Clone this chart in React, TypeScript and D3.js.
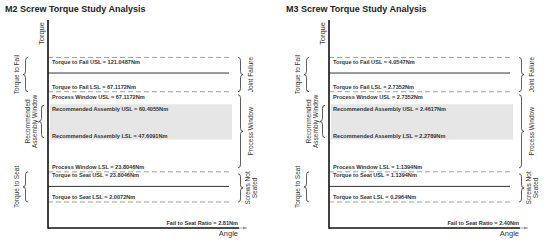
import * as d3 from 'd3'
import { useEffect, useRef } from 'react'

// one entry per panel (M2, M3)
const panelTitles = ['M2 Screw Torque Study Analysis', 'M3 Screw Torque Study Analysis']
const failUSL = [121.0487, 4.0547]
const failLSL = [67.1172, 2.7352]
const processUSL = [67.1172, 2.7352]
const assemblyUSL = [60.4055, 2.4617]
const assemblyLSL = [47.6091, 2.2789]
const processLSL = [23.8046, 1.1394]
const seatUSL = [23.8046, 1.1394]
const seatLSL = [2.0072, 0.2964]
const failToSeatRatio = [2.81, 2.40]

// schematic torque levels (relative, 0 = origin, 100 = top of axis)
const levelFailUSL = 82
const levelFailMid = 74.5
const levelFailLSL = 65.5
const levelAssemblyTop = 59.5
const levelAssemblyBottom = 42.5
const levelSeatUSL = 27
const levelSeatMid = 20
const levelSeatLSL = 12.5

const W = 550
const H = 241
const FONT = '"Liberation Sans", Arial, sans-serif'

const bracePath = (x: number, y1: number, y2: number, w: number, d: number) => {
  const h = w / 2
  const mid = (y1 + y2) / 2
  return `M${x},${y1} Q${x + d * h},${y1} ${x + d * h},${y1 + 3}` +
    ` L${x + d * h},${mid - 3} Q${x + d * h},${mid} ${x + d * w},${mid}` +
    ` Q${x + d * h},${mid} ${x + d * h},${mid + 3}` +
    ` L${x + d * h},${y2 - 3} Q${x + d * h},${y2} ${x},${y2}`
}

const drawPanel = (g: any, i: number) => {
  const x = d3.scaleLinear().domain([0, 1]).range([48, 247])
  const y = d3.scaleLinear().domain([0, 100]).range([228, 20])
  const lineEnd = x(0.925)
  const f4 = (v: number) => v.toFixed(4)

  g.append('text')
    .attr('x', 5).attr('y', 12)
    .style('font-size', '9px').style('font-weight', 'bold').style('font-family', FONT)
    .attr('fill', '#222')
    .text(panelTitles[i])

  // recommended assembly window
  g.append('rect')
    .attr('x', x(0) + 2).attr('y', y(levelAssemblyTop))
    .attr('width', lineEnd - x(0) - 2)
    .attr('height', y(levelAssemblyBottom) - y(levelAssemblyTop))
    .attr('fill', '#e6e6e6')

  const dashed = [levelFailUSL, levelFailLSL, levelSeatUSL, levelSeatLSL]
  g.selectAll('.dash').data(dashed).enter().append('line')
    .attr('x1', x(0)).attr('x2', lineEnd)
    .attr('y1', (d: number) => y(d)).attr('y2', (d: number) => y(d))
    .attr('stroke', '#a0a0a0').attr('stroke-width', 1).attr('stroke-dasharray', '5,3')

  const solid = [levelFailMid, levelSeatMid]
  g.selectAll('.solid').data(solid).enter().append('line')
    .attr('x1', x(0)).attr('x2', x(0.91))
    .attr('y1', (d: number) => y(d)).attr('y2', (d: number) => y(d))
    .attr('stroke', '#333').attr('stroke-width', 1)

  const labels: [string, number][] = [
    [`Torque to Fail USL = ${f4(failUSL[i])}Nm`, y(levelFailUSL) + 6.5],
    [`Torque to Fail LSL = ${f4(failLSL[i])}Nm`, y(levelFailLSL) - 3],
    [`Process Window USL = ${f4(processUSL[i])}Nm`, y(levelFailLSL) + 7.5],
    [`Recommended Assembly USL = ${f4(assemblyUSL[i])}Nm`, y(levelAssemblyTop) + 6.5],
    [`Recommended Assembly LSL = ${f4(assemblyLSL[i])}Nm`, y(levelAssemblyBottom) - 2],
    [`Process Window LSL = ${f4(processLSL[i])}Nm`, y(levelSeatUSL) - 2.5],
    [`Torque to Seat USL = ${f4(seatUSL[i])}Nm`, y(levelSeatUSL) + 5.5],
    [`Torque to Seat LSL = ${f4(seatLSL[i])}Nm`, y(levelSeatLSL) - 3],
  ]
  g.selectAll('.lbl').data(labels).enter().append('text')
    .attr('x', x(0) + 4).attr('y', (d: any) => d[1])
    .style('font-size', '5.6px').style('font-weight', 'bold').style('font-family', FONT)
    .attr('fill', '#333')
    .text((d: any) => d[0])

  g.append('text')
    .attr('x', x(0.955)).attr('y', 225)
    .attr('text-anchor', 'end')
    .style('font-size', '5.6px').style('font-weight', 'bold').style('font-family', FONT)
    .attr('fill', '#333')
    .text(`Fail to Seat Ratio = ${failToSeatRatio[i].toFixed(2)}Nm`)

  // axes
  g.append('line')
    .attr('x1', x(0.96)).attr('x2', x(1)).attr('y1', y(0)).attr('y2', y(0))
    .attr('stroke', '#999').attr('stroke-width', 0.8)
  g.append('path')
    .attr('d', `M${x(1)},${y(0)} l-4,-1.6 v3.2 z`)
    .attr('fill', '#999')
  g.append('line')
    .attr('x1', x(0)).attr('x2', x(0.96)).attr('y1', y(0)).attr('y2', y(0))
    .attr('stroke', '#111').attr('stroke-width', 1.6)
  g.append('line')
    .attr('x1', x(0)).attr('x2', x(0)).attr('y1', y(100)).attr('y2', y(0) + 0.8)
    .attr('stroke', '#111').attr('stroke-width', 1.6)

  g.append('text')
    .attr('x', x(0.955)).attr('y', 236)
    .attr('text-anchor', 'end')
    .style('font-size', '7.5px').style('font-family', FONT).attr('fill', '#333')
    .text('Angle')
  g.append('text')
    .attr('transform', `translate(${x(0) - 4},${y(93.5)}) rotate(-90)`)
    .attr('text-anchor', 'middle')
    .style('font-size', '7.5px').style('font-family', FONT).attr('fill', '#333')
    .text('Torque')

  // braces
  const braceStyle = (p: any) => p.attr('fill', 'none').attr('stroke', '#333').attr('stroke-width', 0.8)
  const rotText = (cx: number, cy: number, lines: string[]) => {
    const t = g.append('text')
      .attr('transform', `translate(${cx},${cy}) rotate(-90)`)
      .attr('text-anchor', 'middle')
      .style('font-size', '6.5px').style('font-family', FONT).attr('fill', '#333')
    lines.forEach((s, k) => {
      t.append('tspan').attr('x', 0)
        .attr('dy', k === 0 ? `${0.35 - (lines.length - 1) * 0.55}em` : '1.1em')
        .text(s)
    })
  }

  const rb = 238
  const rightBraces: [number, number, string[]][] = [
    [y(levelFailUSL), y(levelFailLSL), ['Joint Failure']],
    [y(levelFailLSL) + 3, y(levelSeatUSL) - 4, ['Process Window']],
    [y(levelSeatUSL) + 2, y(levelSeatLSL), ['Screws Not', 'Seated']],
  ]
  rightBraces.forEach(([a, b, txt]) => {
    braceStyle(g.append('path').attr('d', bracePath(rb, a, b, 5, 1)))
    rotText(rb + 13, (a + b) / 2, txt)
  })

  const leftBraces: [number, number, number, number, string[]][] = [
    [y(levelFailUSL), y(levelFailLSL), 28, 17, ['Torque to Fail']],
    [y(levelAssemblyTop) + 1, y(levelAssemblyBottom) - 2, 44, 31.5, ['Recommended', 'Assembly Window']],
    [y(levelSeatUSL), y(levelSeatLSL), 28, 17, ['Torque to Seat']],
  ]
  leftBraces.forEach(([a, b, bx, tx, txt]) => {
    braceStyle(g.append('path').attr('d', bracePath(bx, a, b, 5, -1)))
    rotText(tx, (a + b) / 2, txt)
  })
}

export default function App() {
  const ref = useRef<SVGSVGElement>(null)

  useEffect(() => {
    const svg = d3.select(ref.current)
    svg.selectAll('*').remove()
    svg.append('rect').attr('width', W).attr('height', H).attr('fill', '#fff')
    panelTitles.forEach((_, i) => {
      const g = svg.append('g').attr('transform', `translate(${i * 281},0)`)
      drawPanel(g, i)
    })
  }, [])

  return <svg ref={ref} width={W} height={H}
    style={{ position: 'absolute', left: 0, top: 0, display: 'block' }} />
}
